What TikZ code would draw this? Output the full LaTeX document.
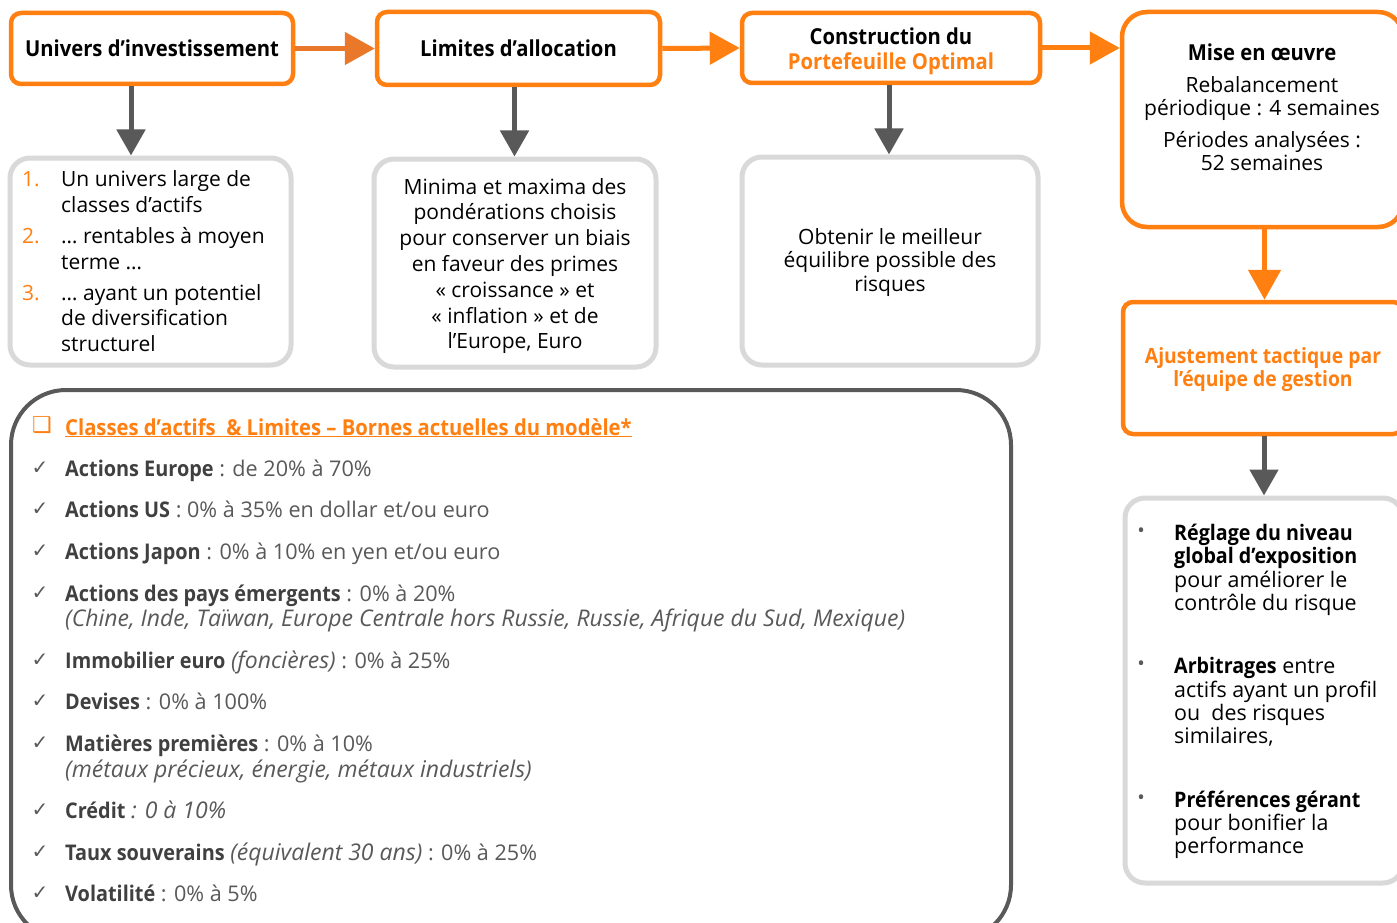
\documentclass[tikz,border=0pt]{standalone}
\usepackage{fontspec}
\setmainfont{Open Sans}
\newfontfamily\semi{Open Sans}[FakeStretch=0.92]
\newfontfamily\symb{DejaVu Sans}
\usetikzlibrary{arrows.meta,positioning}

\definecolor{orangeA}{HTML}{FF7F11}
\definecolor{orangeB}{HTML}{E9782A}
\definecolor{arrowgray}{HTML}{595959}
\definecolor{boxgray}{HTML}{D9D9D9}
\definecolor{txtgray}{HTML}{595959}
\definecolor{txtdark}{HTML}{404040}

\tikzset{
  obox/.style={draw=orangeA, line width=4.5pt, rounded corners=10pt, fill=white, align=center, inner sep=0pt},
  gbox/.style={draw=boxgray, line width=5pt, rounded corners=20pt, align=center, inner sep=0pt},
  oarrow/.style={draw=orangeA, line width=5pt, -{Triangle[length=30pt,width=32pt]}},
  garrow/.style={draw=arrowgray, line width=5pt, -{Triangle[length=26pt,width=28pt]}},
  titlefont/.style={font=\semi\bfseries\fontsize{22}{25}\selectfont},
  listline/.style={anchor=west, inner sep=0pt, yshift=-3pt, text=txtgray, font=\fontsize{21.6}{26}\selectfont, text height=15pt, text depth=5pt},
  check/.style={anchor=center, inner sep=0pt, text=txtgray, font=\symb\fontsize{20}{22}\selectfont},
}
\newcommand{\lab}[1]{{\semi\bfseries\color{txtdark}#1}}
\newcommand{\itx}[1]{{\fontsize{23}{26}\selectfont\itshape #1}}

\begin{document}
\begin{tikzpicture}[x=1pt,y=-1pt]
  \useasboundingbox (0,0) rectangle (1397,923);
  \clip (0,0) rectangle (1397,923);
  \fill[white] (0,0) rectangle (1397,923);

  % top row
  \node[obox, titlefont, minimum width=282pt, minimum height=71pt] (univ) at (152,48.5) {Univers d’investissement};
  \node[obox, titlefont, minimum width=283pt, minimum height=73pt] (lim) at (518.5,48.5) {Limites d’allocation};
  \node[obox, minimum width=298pt, minimum height=70pt] (constr) at (891,48) {};
  \node[titlefont, align=center, inner sep=0pt] (constrtxt) at (891,51) {Construction du\\\textcolor{orangeA}{Portefeuille Optimal}};
  \node[obox, rounded corners=25pt, minimum width=281pt, minimum height=215pt] (mise) at (1262.5,119.5) {};
  \node[align=center, font=\fontsize{21}{23}\selectfont] (misetxt) at (1262,107)
    {{\semi\bfseries\fontsize{22}{23}\selectfont Mise en œuvre}\\[9pt]Rebalancement\\périodique : 4 semaines\\[9pt]Périodes analysées :\\52 semaines};

  % second row
  \node[gbox, minimum width=281pt, minimum height=207pt] (univlist) at (150.5,261.5) {};
  \foreach \n/\y in {1/179,2/236,3/293}
    \node[anchor=west, inner sep=0pt, text=orangeA, font=\fontsize{21}{26}\selectfont] (num\n) at (22,\y) {\n.};
  \node[anchor=west, align=left, inner sep=0pt, font=\fontsize{21}{26}\selectfont] (it1) at (61,192) {Un univers large de\\classes d’actifs};
  \node[anchor=west, align=left, inner sep=0pt, font=\fontsize{21}{26}\selectfont] (it2) at (61,249) {… rentables à moyen\\terme …};
  \node[anchor=west, align=left, inner sep=0pt, font=\fontsize{21}{25.5}\selectfont] (it3) at (61,318) {… ayant un potentiel\\de diversification\\structurel};
  \node[gbox, minimum width=282pt, minimum height=208pt] (limlist) at (515,263) {};
  \node[align=center, inner sep=0pt, font=\fontsize{21}{25.8}\selectfont] (limtxt) at (515,266)
    {Minima et maxima des\\pondérations choisis\\pour conserver un biais\\en faveur des primes\\« croissance » et\\« inflation » et de\\l’Europe, Euro};
  \node[gbox, minimum width=296pt, minimum height=208pt] (constrlist) at (890,261) {};
  \node[align=center, inner sep=0pt, font=\fontsize{21}{23.5}\selectfont] (constrlisttxt) at (890,262.5)
    {Obtenir le meilleur\\équilibre possible des\\risques};

  % right column
  \node[obox, minimum width=280pt, minimum height=132pt] (ajust) at (1263,368) {};
  \node[align=center, inner sep=0pt, text=orangeA, font=\semi\bfseries\fontsize{21}{23}\selectfont] (ajusttxt) at (1263,369.5)
    {Ajustement tactique par\\l’équipe de gestion};
  \node[gbox, minimum width=278pt, minimum height=385pt] (reglage) at (1264,690.5) {};
  \foreach \n/\y in {1/533,2/666,3/800}
    \node[inner sep=0pt, text=txtgray, font=\fontsize{20}{22}\selectfont] (bul\n) at (1141,\y) {•};
  \node[anchor=west, align=left, inner sep=0pt, font=\fontsize{21.4}{23.3}\selectfont] (pt1) at (1174,570)
    {{\semi\bfseries Réglage du niveau}\\{\semi\bfseries global d’exposition}\\pour améliorer le\\contrôle du risque};
  \node[anchor=west, align=left, inner sep=0pt, font=\fontsize{21.4}{23.3}\selectfont] (pt2) at (1174,702)
    {{\semi\bfseries Arbitrages} entre\\actifs ayant un profil\\ou~ des risques\\similaires,};
  \node[anchor=west, align=left, inner sep=0pt, font=\fontsize{21.4}{23.3}\selectfont] (pt3) at (1174,825)
    {{\semi\bfseries Préférences gérant}\\pour bonifier la\\performance};

  % bounds box
  \node[draw=arrowgray, line width=4pt, rounded corners=55pt, minimum width=1000pt, minimum height=550pt, inner sep=0pt] (bornes) at (511,665) {};
  \node[inner sep=0pt, text=orangeA, font=\symb\fontsize{22}{24}\selectfont] (sq) at (42,425) {❑};
  \node[listline, text=orangeA, font=\semi\bfseries\fontsize{22}{26}\selectfont] (hdr) at (65,427)
    {\underline{Classes d’actifs~ \& Limites – Bornes actuelles du modèle*}};
  \foreach \y in {468,509,551,593,660,701,743,810,852,893}
    \node[check] (ck\y) at (40,\y) {✓};
  \node[listline] (r1) at (65,468) {\lab{Actions Europe} : de 20\% à 70\%};
  \node[listline] (r2) at (65,509) {\lab{Actions US} : 0\% à 35\% en dollar et/ou euro};
  \node[listline] (r3) at (65,551) {\lab{Actions Japon} : 0\% à 10\% en yen et/ou euro};
  \node[listline] (r4) at (65,593) {\lab{Actions des pays émergents} : 0\% à 20\%};
  \node[listline] (r4b) at (65,618) {\itx{(Chine, Inde, Taïwan, Europe Centrale hors Russie, Russie, Afrique du Sud, Mexique)}};
  \node[listline] (r5) at (65,660) {\lab{Immobilier euro} \itx{(foncières)} : 0\% à 25\%};
  \node[listline] (r6) at (65,701) {\lab{Devises} : 0\% à 100\%};
  \node[listline] (r7) at (65,743) {\lab{Matières premières} : 0\% à 10\%};
  \node[listline] (r7b) at (65,769) {\itx{(métaux précieux, énergie, métaux industriels)}};
  \node[listline] (r8) at (65,810) {\lab{Crédit} \itx{: 0 à 10\%}};
  \node[listline] (r9) at (65,852) {\lab{Taux souverains} \itx{(équivalent 30 ans)} : 0\% à 25\%};
  \node[listline] (r10) at (65,893) {\lab{Volatilité} : 0\% à 5\%};

  % connectors
  \draw[oarrow, draw=orangeB] (univ.east) -- (lim.west);
  \draw[oarrow] (lim.east) -- (constr.west);
  \draw[oarrow] (constr.east) -- (constr.east -| mise.west);
  \draw[oarrow] ([xshift=2pt]mise.south) -- ([xshift=2pt]mise.south |- ajust.north);
  \draw[garrow] ([xshift=-21pt]univ.south) -- ([xshift=-21pt]univ.south |- univlist.north);
  \draw[garrow] ([xshift=-4pt]lim.south) -- ([xshift=-4pt]lim.south |- limlist.north);
  \draw[garrow] ([xshift=-2pt]constr.south) -- ([xshift=-2pt]constr.south |- constrlist.north);
  \draw[garrow] ([xshift=1pt]ajust.south) -- ([xshift=1pt]ajust.south |- reglage.north);
\end{tikzpicture}
\end{document}
